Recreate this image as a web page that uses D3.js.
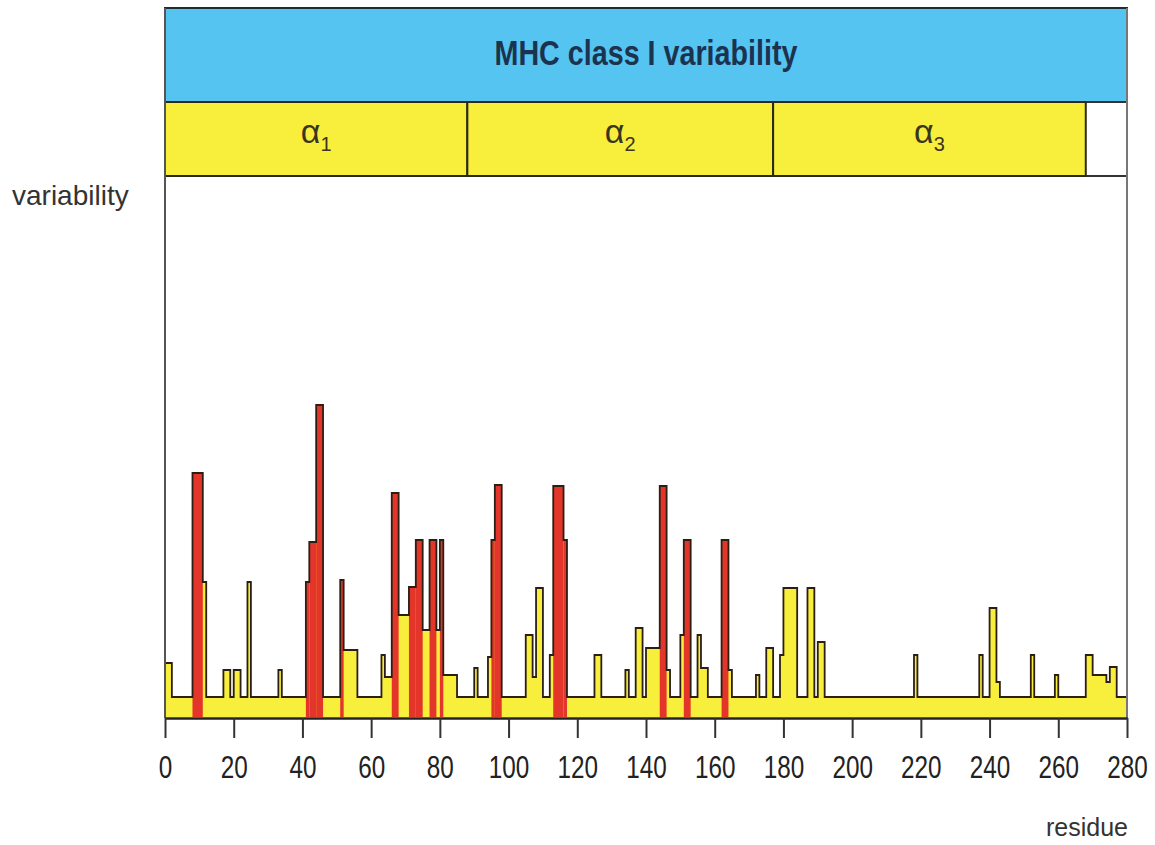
<!DOCTYPE html>
<html>
<head>
<meta charset="utf-8">
<script src="https://cdn.jsdelivr.net/npm/d3@7"></script>
<style>
  body { margin: 0; background: #fff; }
</style>
</head>
<body>
<script>
// residue axis ticks
let tickVals = [0, 20, 40, 60, 80, 100, 120, 140, 160, 180, 200, 220, 240, 260, 280];

// domains of the heavy chain
let domainNames = ["α", "α", "α"];
let domainSubs = ["1", "2", "3"];
let domainBounds = [[0, 88], [88, 177], [177, 268]];

// every residue not listed sits at the baseline value
let baseline = 1;

// [start residue, end residue, variability] - ordinary variable stretches (yellow)
let variableSegs = [
	[0, 2, 2.7], [11, 12, 6.75], [17, 19, 2.35], [20, 22, 2.35], [24, 25, 6.75],
	[33, 34, 2.35], [52, 56, 3.35], [63, 64, 3.1], [64, 66, 2.0], [68, 71, 5.1],
	[75, 77, 4.35], [79, 80, 4.35], [81, 85, 2.1], [90, 91, 2.45], [94, 95, 3.0],
	[105, 107, 4.1], [107, 108, 2.0], [108, 110, 6.45], [112, 113, 3.1], [125, 127, 3.1],
	[134, 135, 2.35], [137, 139, 4.45], [140, 144, 3.45], [146, 147, 2.35], [150, 151, 4.1],
	[155, 156, 4.1], [156, 158, 2.45], [164, 165, 2.35], [172, 173, 2.1], [175, 177, 3.45],
	[179, 180, 3.1], [180, 184, 6.45], [187, 189, 6.45], [190, 192, 3.75], [218, 219, 3.1],
	[237, 238, 3.1], [240, 242, 5.45], [242, 243, 1.75], [252, 253, 3.1], [259, 260, 2.1],
	[268, 270, 3.1], [270, 274, 2.1], [274, 275, 1.75], [275, 277, 2.5]
];

// hypervariable residues (red)
let hyperSegs = [
	[8, 11, 12.2], [41, 42, 6.75], [42, 44, 8.75], [44, 46, 15.6], [51, 52, 6.85],
	[66, 68, 11.2], [71, 73, 6.5], [73, 75, 8.85], [77, 79, 8.85], [80, 81, 8.85],
	[95, 96, 8.85], [96, 98, 11.6], [113, 116, 11.55], [116, 117, 8.85], [144, 146, 11.55],
	[151, 153, 8.85], [162, 164, 8.85]
];

let svg = d3.select("body").append("svg")
	.attr("width", 1155)
	.attr("height", 845);

let plain = "'Liberation Sans', Arial, sans-serif";

let x = d3.scaleLinear().domain([0, 280]).range([165, 1127]);
let y = d3.scaleLinear().domain([0, 27]).range([717, 177]);

// per residue values for the step profile
let values = d3.range(280).map(() => baseline);
variableSegs.concat(hyperSegs).forEach(s => {
	for (let i = s[0]; i < s[1]; i++) values[i] = s[2];
});
let profile = values.map((v, i) => ({ r: i, v: v }));
profile.push({ r: 280, v: values[279] });

/* header bands */

svg.append("rect")
	.attr("x", x(0)).attr("y", 8)
	.attr("width", x(280) - x(0)).attr("height", 94)
	.attr("fill", "#55c4f1")
	.attr("stroke", "#1d2b33")
	.attr("stroke-width", 2);

svg.append("text") //condensed bold title, squeezed to the width of the original
	.attr("x", (x(0) + x(280)) / 2)
	.attr("y", 65)
	.attr("text-anchor", "middle")
	.attr("font-family", plain)
	.attr("font-weight", "bold")
	.attr("font-size", 35)
	.attr("textLength", 303)
	.attr("lengthAdjust", "spacingAndGlyphs")
	.attr("fill", "#1c3350")
	.text("MHC class I variability");

svg.append("rect") //blank end of the domain strip
	.attr("x", x(0)).attr("y", 102)
	.attr("width", x(280) - x(0)).attr("height", 74)
	.attr("fill", "#fff")
	.attr("stroke", "#333")
	.attr("stroke-width", 2);

let dom = svg.selectAll(".domain-box")
	.data(domainBounds)
	.enter().append("g")
	.attr("class", "domain-box");

dom.append("rect")
	.attr("x", d => x(d[0])).attr("y", 102)
	.attr("width", d => x(d[1]) - x(d[0])).attr("height", 74)
	.attr("fill", "#f8ef3c")
	.attr("stroke", "#2a2a1a")
	.attr("stroke-width", 2);

let lbl = dom.append("text")
	.attr("x", d => (x(d[0]) + x(d[1])) / 2)
	.attr("y", 143)
	.attr("text-anchor", "middle")
	.attr("font-family", plain)
	.attr("font-size", 34)
	.attr("fill", "#3a3420");
lbl.append("tspan").text((d, i) => domainNames[i]);
lbl.append("tspan")
	.attr("font-size", 20)
	.attr("dy", 8)
	.text((d, i) => domainSubs[i]);

/* profile */

let area = d3.area()
	.curve(d3.curveStepAfter)
	.x(d => x(d.r))
	.y0(y(0))
	.y1(d => y(d.v));

svg.append("path")
	.datum(profile)
	.attr("fill", "#f8ef3c")
	.attr("d", area);

svg.selectAll(".hyper")
	.data(hyperSegs)
	.enter().append("rect")
	.attr("class", "hyper")
	.attr("x", d => x(d[0]))
	.attr("y", d => y(d[2]))
	.attr("width", d => x(d[1]) - x(d[0]))
	.attr("height", d => y(0) - y(d[2]))
	.attr("fill", "#e4352a");

let line = d3.line()
	.curve(d3.curveStepAfter)
	.x(d => x(d.r))
	.y(d => y(d.v));

svg.append("path")
	.datum(profile)
	.attr("fill", "none")
	.attr("stroke", "#2b1f14")
	.attr("stroke-width", 1.8)
	.attr("d", line);

// side borders of the plot
svg.append("line")
	.attr("x1", x(0)).attr("x2", x(0))
	.attr("y1", 8).attr("y2", 718)
	.attr("stroke", "#555").attr("stroke-width", 2);
svg.append("line")
	.attr("x1", x(280)).attr("x2", x(280))
	.attr("y1", 8).attr("y2", 718)
	.attr("stroke", "#777").attr("stroke-width", 2);

/* axis */

let xAxis = d3.axisBottom(x)
	.tickValues(tickVals)
	.tickSize(20)
	.tickSizeOuter(0)
	.tickPadding(17);

let xG = svg.append("g")
	.attr("transform", "translate(0, 718)")
	.call(xAxis);

xG.select(".domain")
	.attr("stroke", "#222")
	.attr("stroke-width", 2.5);
xG.selectAll(".tick line")
	.attr("stroke", "#333")
	.attr("stroke-width", 2);
xG.selectAll(".tick text") //tall narrow digits like the original
	.attr("font-family", plain)
	.attr("font-size", 32)
	.attr("textLength", d => String(d).length * 13.5)
	.attr("lengthAdjust", "spacingAndGlyphs")
	.attr("fill", "#222");

svg.append("text")
	.attr("x", 12)
	.attr("y", 205)
	.attr("font-family", plain)
	.attr("font-size", 28)
	.attr("fill", "#333")
	.text("variability");

svg.append("text")
	.attr("x", 1128)
	.attr("y", 836)
	.attr("text-anchor", "end")
	.attr("font-family", plain)
	.attr("font-size", 25)
	.attr("fill", "#333")
	.text("residue");
</script>
</body>
</html>
